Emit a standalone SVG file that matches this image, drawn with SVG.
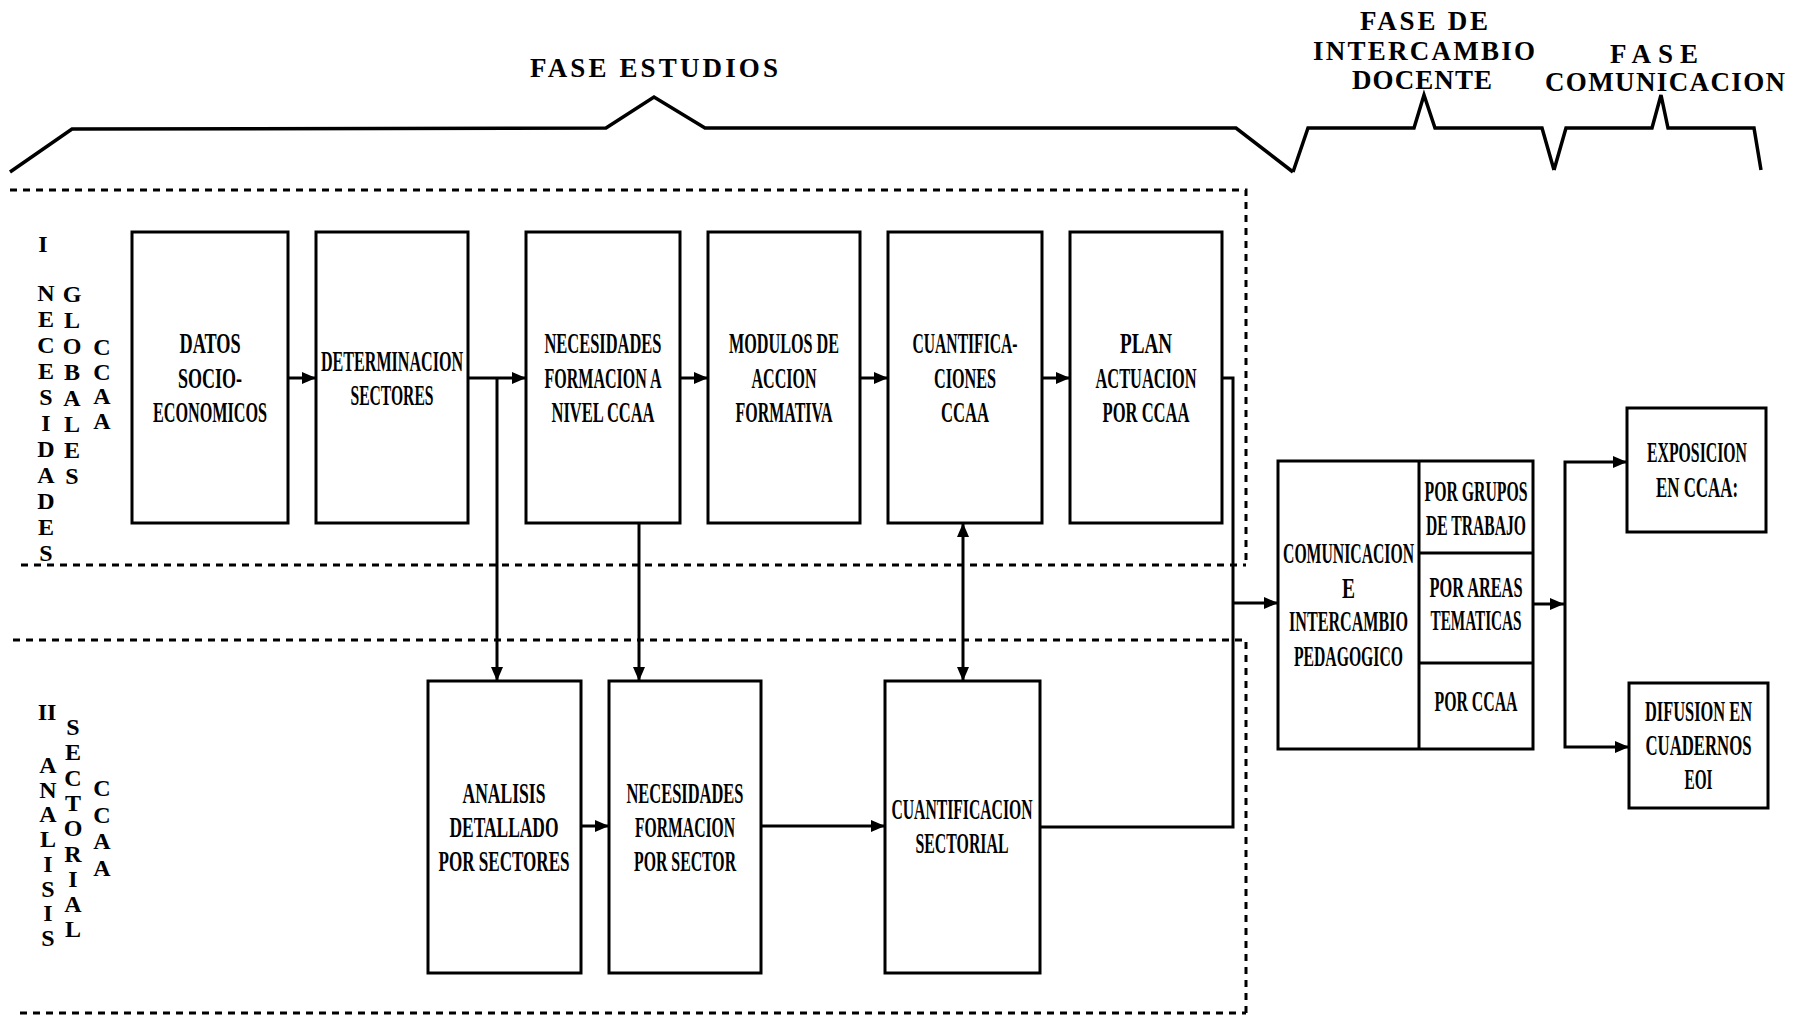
<svg xmlns="http://www.w3.org/2000/svg" width="1800" height="1017" viewBox="0 0 1800 1017">
<defs>
<marker id="ah" markerUnits="userSpaceOnUse" markerWidth="14" markerHeight="12" refX="14" refY="6" orient="auto">
<path d="M0,0 L14,6 L0,12 z" fill="#000"/>
</marker>
<marker id="ahs" markerUnits="userSpaceOnUse" markerWidth="14" markerHeight="12" refX="0" refY="6" orient="auto">
<path d="M14,0 L0,6 L14,12 z" fill="#000"/>
</marker>
</defs>
<style>
.box{fill:none;stroke:#000;stroke-width:3}
.ln{fill:none;stroke:#000;stroke-width:3}
.br{fill:none;stroke:#000;stroke-width:3.5;stroke-linejoin:miter}
.dash{fill:none;stroke:#000;stroke-width:3;stroke-dasharray:7 6}
.t{font-family:"Liberation Serif","Times New Roman",serif;font-weight:700;font-size:29px;fill:#000}
.v{font-family:"Liberation Serif","Times New Roman",serif;font-weight:700;font-size:24px;fill:#000;text-anchor:middle}
.ph{font-family:"Liberation Serif","Times New Roman",serif;font-weight:700;font-size:27px;fill:#000}
</style>
<rect width="1800" height="1017" fill="#fff"/>

<g id="phases">
<path class="br" d="M10,172 L72,129 L606,128 L654,97 L705,128 L1236,128 L1293,172"/>
<path class="br" d="M1293,172 L1308,128 L1414,128 L1424,95 L1435,128 L1542,128 L1554,170"/>
<path class="br" d="M1554,170 L1566,128 L1652,128 L1661,95 L1668,128 L1754,128 L1761,170"/>
<text class="ph" x="530" y="77" textLength="248">FASE ESTUDIOS</text>
<text class="ph" x="1360" y="30" textLength="128">FASE DE</text>
<text class="ph" x="1313" y="60" textLength="222">INTERCAMBIO</text>
<text class="ph" x="1352" y="89" textLength="140">DOCENTE</text>
<text class="ph" x="1610" y="63" textLength="88">FASE</text>
<text class="ph" x="1545" y="91" textLength="240">COMUNICACION</text>
</g>

<g id="regions">
<path class="dash" d="M10,190 L1246,190 L1246,565 M21,565 L1246,565"/>
<path class="dash" d="M13,640 L1246,640 L1246,1013 M20,1013 L1246,1013"/>
</g>

<g id="label-I">
<text class="v" x="43" y="252">I</text>
<text class="v"><tspan x="46" y="301">N</tspan><tspan x="46" y="327">E</tspan><tspan x="46" y="353">C</tspan><tspan x="46" y="379">E</tspan><tspan x="46" y="405">S</tspan><tspan x="46" y="431">I</tspan><tspan x="46" y="457">D</tspan><tspan x="46" y="483">A</tspan><tspan x="46" y="509">D</tspan><tspan x="46" y="535">E</tspan><tspan x="46" y="561">S</tspan></text>
<text class="v"><tspan x="72" y="302">G</tspan><tspan x="72" y="328">L</tspan><tspan x="72" y="354">O</tspan><tspan x="72" y="380">B</tspan><tspan x="72" y="406">A</tspan><tspan x="72" y="432">L</tspan><tspan x="72" y="458">E</tspan><tspan x="72" y="484">S</tspan></text>
<text class="v"><tspan x="102" y="355">C</tspan><tspan x="102" y="380">C</tspan><tspan x="102" y="404">A</tspan><tspan x="102" y="429">A</tspan></text>
</g>

<g id="label-II">
<text class="v" x="47" y="720">II</text>
<text class="v"><tspan x="48" y="773">A</tspan><tspan x="48" y="798">N</tspan><tspan x="48" y="822">A</tspan><tspan x="48" y="847">L</tspan><tspan x="48" y="872">I</tspan><tspan x="48" y="897">S</tspan><tspan x="48" y="921">I</tspan><tspan x="48" y="946">S</tspan></text>
<text class="v"><tspan x="73" y="735">S</tspan><tspan x="73" y="760">E</tspan><tspan x="73" y="786">C</tspan><tspan x="73" y="811">T</tspan><tspan x="73" y="836">O</tspan><tspan x="73" y="862">R</tspan><tspan x="73" y="887">I</tspan><tspan x="73" y="912">A</tspan><tspan x="73" y="937">L</tspan></text>
<text class="v"><tspan x="102" y="796">C</tspan><tspan x="102" y="823">C</tspan><tspan x="102" y="849">A</tspan><tspan x="102" y="876">A</tspan></text>
</g>

<g id="datos">
<rect class="box" x="132" y="232" width="156" height="291"/>
<text class="t" transform="translate(210,353) scale(0.58,1)" x="-52.6" textLength="105.2" lengthAdjust="spacingAndGlyphs">DATOS</text>
<text class="t" transform="translate(210,388) scale(0.58,1)" x="-55.2" textLength="110.3" lengthAdjust="spacingAndGlyphs">SOCIO-</text>
<text class="t" transform="translate(210,422) scale(0.58,1)" x="-98.3" textLength="196.6" lengthAdjust="spacingAndGlyphs">ECONOMICOS</text>
</g>

<g id="determinacion">
<rect class="box" x="316" y="232" width="152" height="291"/>
<text class="t" transform="translate(392,371) scale(0.58,1)" x="-122.4" textLength="244.8" lengthAdjust="spacingAndGlyphs">DETERMINACION</text>
<text class="t" transform="translate(392,405) scale(0.58,1)" x="-71.6" textLength="143.1" lengthAdjust="spacingAndGlyphs">SECTORES</text>
</g>

<g id="necesidades-ccaa">
<rect class="box" x="526" y="232" width="154" height="291"/>
<text class="t" transform="translate(603,353) scale(0.58,1)" x="-100.9" textLength="201.7" lengthAdjust="spacingAndGlyphs">NECESIDADES</text>
<text class="t" transform="translate(603,388) scale(0.58,1)" x="-100.9" textLength="201.7" lengthAdjust="spacingAndGlyphs">FORMACION A</text>
<text class="t" transform="translate(603,422) scale(0.58,1)" x="-88.8" textLength="177.6" lengthAdjust="spacingAndGlyphs">NIVEL CCAA</text>
</g>

<g id="modulos">
<rect class="box" x="708" y="232" width="152" height="291"/>
<text class="t" transform="translate(784,353) scale(0.58,1)" x="-94.8" textLength="189.7" lengthAdjust="spacingAndGlyphs">MODULOS DE</text>
<text class="t" transform="translate(784,388) scale(0.58,1)" x="-56" textLength="112.1" lengthAdjust="spacingAndGlyphs">ACCION</text>
<text class="t" transform="translate(784,422) scale(0.58,1)" x="-83.6" textLength="167.2" lengthAdjust="spacingAndGlyphs">FORMATIVA</text>
</g>

<g id="cuantificaciones">
<rect class="box" x="888" y="232" width="154" height="291"/>
<text class="t" transform="translate(965,353) scale(0.58,1)" x="-90.5" textLength="181" lengthAdjust="spacingAndGlyphs">CUANTIFICA-</text>
<text class="t" transform="translate(965,388) scale(0.58,1)" x="-53.4" textLength="106.9" lengthAdjust="spacingAndGlyphs">CIONES</text>
<text class="t" transform="translate(965,422) scale(0.58,1)" x="-41.4" textLength="82.8" lengthAdjust="spacingAndGlyphs">CCAA</text>
</g>

<g id="plan">
<rect class="box" x="1070" y="232" width="152" height="291"/>
<text class="t" transform="translate(1146,353) scale(0.58,1)" x="-44.8" textLength="89.7" lengthAdjust="spacingAndGlyphs">PLAN</text>
<text class="t" transform="translate(1146,388) scale(0.58,1)" x="-87" textLength="174.1" lengthAdjust="spacingAndGlyphs">ACTUACION</text>
<text class="t" transform="translate(1146,422) scale(0.58,1)" x="-75" textLength="150" lengthAdjust="spacingAndGlyphs">POR CCAA</text>
</g>

<g id="analisis">
<rect class="box" x="428" y="681" width="153" height="292"/>
<text class="t" transform="translate(504,803) scale(0.58,1)" x="-71.6" textLength="143.1" lengthAdjust="spacingAndGlyphs">ANALISIS</text>
<text class="t" transform="translate(504,837) scale(0.58,1)" x="-94" textLength="187.9" lengthAdjust="spacingAndGlyphs">DETALLADO</text>
<text class="t" transform="translate(504,871) scale(0.58,1)" x="-112.9" textLength="225.9" lengthAdjust="spacingAndGlyphs">POR SECTORES</text>
</g>

<g id="necesidades-sector">
<rect class="box" x="609" y="681" width="152" height="292"/>
<text class="t" transform="translate(685,803) scale(0.58,1)" x="-100.9" textLength="201.7" lengthAdjust="spacingAndGlyphs">NECESIDADES</text>
<text class="t" transform="translate(685,837) scale(0.58,1)" x="-86.2" textLength="172.4" lengthAdjust="spacingAndGlyphs">FORMACION</text>
<text class="t" transform="translate(685,871) scale(0.58,1)" x="-87.9" textLength="175.9" lengthAdjust="spacingAndGlyphs">POR SECTOR</text>
</g>

<g id="cuantificacion-sectorial">
<rect class="box" x="885" y="681" width="155" height="292"/>
<text class="t" transform="translate(962,819) scale(0.58,1)" x="-121.6" textLength="243.1" lengthAdjust="spacingAndGlyphs">CUANTIFICACION</text>
<text class="t" transform="translate(962,853) scale(0.58,1)" x="-80.2" textLength="160.3" lengthAdjust="spacingAndGlyphs">SECTORIAL</text>
</g>

<g id="comunicacion">
<rect class="box" x="1278" y="461" width="255" height="288"/>
<path class="ln" d="M1419,461 L1419,749 M1419,553 L1533,553 M1419,663 L1533,663"/>
<text class="t" transform="translate(1348.5,563) scale(0.58,1)" x="-112.9" textLength="225.9" lengthAdjust="spacingAndGlyphs">COMUNICACION</text>
<text class="t" transform="translate(1348.5,598) scale(0.58,1)" x="-11.2" textLength="22.4" lengthAdjust="spacingAndGlyphs">E</text>
<text class="t" transform="translate(1348.5,631) scale(0.58,1)" x="-102.6" textLength="205.2" lengthAdjust="spacingAndGlyphs">INTERCAMBIO</text>
<text class="t" transform="translate(1348.5,666) scale(0.58,1)" x="-94" textLength="187.9" lengthAdjust="spacingAndGlyphs">PEDAGOGICO</text>
<text class="t" transform="translate(1476,501) scale(0.58,1)" x="-88.8" textLength="177.6" lengthAdjust="spacingAndGlyphs">POR GRUPOS</text>
<text class="t" transform="translate(1476,535) scale(0.58,1)" x="-86.2" textLength="172.4" lengthAdjust="spacingAndGlyphs">DE TRABAJO</text>
<text class="t" transform="translate(1476,597) scale(0.58,1)" x="-80.2" textLength="160.3" lengthAdjust="spacingAndGlyphs">POR AREAS</text>
<text class="t" transform="translate(1476,630) scale(0.58,1)" x="-78.4" textLength="156.9" lengthAdjust="spacingAndGlyphs">TEMATICAS</text>
<text class="t" transform="translate(1476,711) scale(0.58,1)" x="-71.6" textLength="143.1" lengthAdjust="spacingAndGlyphs">POR CCAA</text>
</g>

<g id="exposicion">
<rect class="box" x="1627" y="408" width="139" height="124"/>
<text class="t" transform="translate(1697,462) scale(0.58,1)" x="-86.2" textLength="172.4" lengthAdjust="spacingAndGlyphs">EXPOSICION</text>
<text class="t" transform="translate(1697,497) scale(0.58,1)" x="-70.7" textLength="141.4" lengthAdjust="spacingAndGlyphs">EN CCAA:</text>
</g>

<g id="difusion">
<rect class="box" x="1629" y="683" width="139" height="125"/>
<text class="t" transform="translate(1698.5,721) scale(0.58,1)" x="-92.2" textLength="184.5" lengthAdjust="spacingAndGlyphs">DIFUSION EN</text>
<text class="t" transform="translate(1698.5,755) scale(0.58,1)" x="-91.4" textLength="182.8" lengthAdjust="spacingAndGlyphs">CUADERNOS</text>
<text class="t" transform="translate(1698.5,789) scale(0.58,1)" x="-24.1" textLength="48.3" lengthAdjust="spacingAndGlyphs">EOI</text>
</g>

<g id="connectors">
<path class="ln" d="M288,378 L316,378" marker-end="url(#ah)"/>
<path class="ln" d="M468,378 L526,378" marker-end="url(#ah)"/>
<path class="ln" d="M497,378 L497,681" marker-end="url(#ah)"/>
<path class="ln" d="M680,378 L708,378" marker-end="url(#ah)"/>
<path class="ln" d="M860,378 L888,378" marker-end="url(#ah)"/>
<path class="ln" d="M1042,378 L1070,378" marker-end="url(#ah)"/>
<path class="ln" d="M639,523 L639,681" marker-end="url(#ah)"/>
<path class="ln" d="M963,523 L963,681" marker-start="url(#ahs)" marker-end="url(#ah)"/>
<path class="ln" d="M581,826 L609,826" marker-end="url(#ah)"/>
<path class="ln" d="M761,826 L885,826" marker-end="url(#ah)"/>
<path class="ln" d="M1222,378 L1233,378 L1233,827 L1040,827"/>
<path class="ln" d="M1233,603 L1278,603" marker-end="url(#ah)"/>
<path class="ln" d="M1533,604 L1564,604" marker-end="url(#ah)"/>
<path class="ln" d="M1627,462 L1565,462 L1565,747 L1629,747" marker-start="url(#ahs)" marker-end="url(#ah)"/>
</g>
</svg>
